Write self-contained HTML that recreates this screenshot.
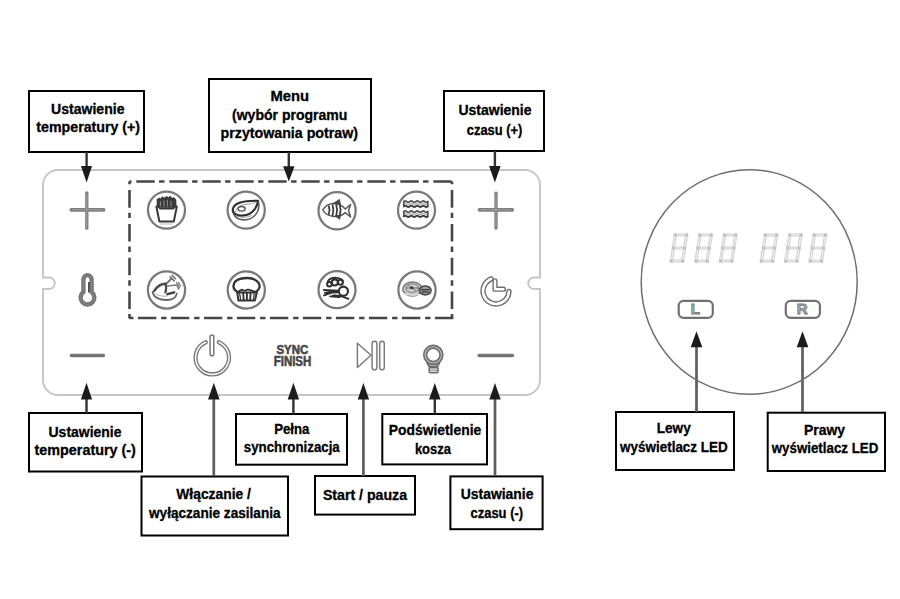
<!DOCTYPE html>
<html><head><meta charset="utf-8">
<style>
html,body{margin:0;padding:0;background:#fff;}
body{width:900px;height:599px;overflow:hidden;position:relative;}
svg{position:absolute;left:0;top:0;}
.t{font-family:"Liberation Sans",sans-serif;font-weight:bold;font-size:14.1px;fill:#000;stroke:#000;stroke-width:0.3px;text-anchor:middle;}
.bx{fill:#fff;stroke:#000;stroke-width:2;}
.sh{stroke:#4d4d4d;stroke-width:2.5;}
.hd{fill:#1c1c1c;}
.ic{fill:none;stroke:#6e6e6e;}
</style></head>
<body>
<svg width="900" height="599" viewBox="0 0 900 599">
<!-- panel outline -->
<path d="M58,170 H525 A15,15 0 0 1 540,185 V277.5 H534 A5.75,5.75 0 0 0 534,289 H540 V380 A15,15 0 0 1 525,395 H58 A15,15 0 0 1 43,380 V289 H49 A5.75,5.75 0 0 0 49,277.5 H43 V185 A15,15 0 0 1 58,170 Z" fill="none" stroke="#c6c6c6" stroke-width="1.9"/>
<!-- dashed menu rect -->
<g fill="none" stroke="#474747" stroke-width="2.6">
<path d="M129.5,181.5 H452.8" stroke-dasharray="18.4 4.4 5.4 4.8" stroke-dashoffset="26.2"/>
<path d="M129.5,181.5 V318.5" stroke-dasharray="17.6 5 5.4 5.8" stroke-dashoffset="25.2"/>
<path d="M452,181.5 V318.5" stroke-dasharray="17.6 5 5.4 5.8" stroke-dashoffset="25.2"/>
<path d="M453.3,318 H129.5" stroke-dasharray="18.4 4.4 5.4 4.8" stroke-dashoffset="0"/>
</g>
<!-- boxes -->
<rect class="bx" x="29" y="91" width="115" height="61"/>
<rect class="bx" x="209" y="79" width="162" height="73"/>
<rect class="bx" x="444" y="91" width="100" height="60"/>
<rect class="bx" x="29" y="413" width="113" height="58.5"/>
<rect class="bx" x="141.5" y="476.5" width="146.5" height="59"/>
<rect class="bx" x="236" y="414" width="111" height="50.7"/>
<rect class="bx" x="315" y="476" width="100" height="38.6"/>
<rect class="bx" x="382.3" y="414" width="104.7" height="50.4"/>
<rect class="bx" x="450.4" y="476.4" width="92.2" height="52.8"/>
<rect class="bx" x="616" y="412" width="118" height="58"/>
<rect class="bx" x="767.7" y="412.7" width="117.3" height="58.3"/>

<!-- texts -->
<text class="t" x="87.8" y="113.8" textLength="73.4" lengthAdjust="spacingAndGlyphs">Ustawienie</text>
<text class="t" x="88.2" y="132.4" textLength="103.7" lengthAdjust="spacingAndGlyphs">temperatury (+)</text>
<text class="t" x="289.7" y="101" textLength="38.6" lengthAdjust="spacingAndGlyphs">Menu</text>
<text class="t" x="289.7" y="119.6" textLength="115.4" lengthAdjust="spacingAndGlyphs">(wybór programu</text>
<text class="t" x="289.3" y="138" textLength="137.4" lengthAdjust="spacingAndGlyphs">przytowania potraw)</text>
<text class="t" x="495" y="115.4" textLength="73.0" lengthAdjust="spacingAndGlyphs">Ustawienie</text>
<text class="t" x="494.6" y="134.6" textLength="55.6" lengthAdjust="spacingAndGlyphs">czasu (+)</text>
<text class="t" x="85" y="436.5" textLength="72.9" lengthAdjust="spacingAndGlyphs">Ustawienie</text>
<text class="t" x="85.2" y="455.2" textLength="101.4" lengthAdjust="spacingAndGlyphs">temperatury (-)</text>
<text class="t" x="213.6" y="498.7" textLength="74.6" lengthAdjust="spacingAndGlyphs">Włączanie /</text>
<text class="t" x="214.8" y="517.6" textLength="131.6" lengthAdjust="spacingAndGlyphs">wyłączanie zasilania</text>
<text class="t" x="291.8" y="433.5" textLength="35.2" lengthAdjust="spacingAndGlyphs">Pełna</text>
<text class="t" x="291.8" y="452" textLength="95.9" lengthAdjust="spacingAndGlyphs">synchronizacja</text>
<text class="t" x="365" y="499.7" textLength="84.2" lengthAdjust="spacingAndGlyphs">Start / pauza</text>
<text class="t" x="435" y="434.7" textLength="92.4" lengthAdjust="spacingAndGlyphs">Podświetlenie</text>
<text class="t" x="432.9" y="454.2" textLength="36.0" lengthAdjust="spacingAndGlyphs">kosza</text>
<text class="t" x="497.1" y="498.8" textLength="72.8" lengthAdjust="spacingAndGlyphs">Ustawianie</text>
<text class="t" x="496.8" y="517.5" textLength="52.6" lengthAdjust="spacingAndGlyphs">czasu (-)</text>
<text class="t" x="673.7" y="433.3" textLength="34.0" lengthAdjust="spacingAndGlyphs">Lewy</text>
<text class="t" x="673.9" y="451.7" textLength="107.6" lengthAdjust="spacingAndGlyphs">wyświetlacz LED</text>
<text class="t" x="824.5" y="435" textLength="41.0" lengthAdjust="spacingAndGlyphs">Prawy</text>
<text class="t" x="825" y="453.3" textLength="106.5" lengthAdjust="spacingAndGlyphs">wyświetlacz LED</text>

<!-- arrows down -->
<g fill="#1c1c1c">
<line x1="86.6" y1="152" x2="86.6" y2="168" stroke="#333" stroke-width="2.4"/><polygon points="81,166 92,166 86.6,182.4"/>
<line x1="288.8" y1="152" x2="288.8" y2="168" stroke="#333" stroke-width="2.4"/><polygon points="283.1,166.2 294.5,166.2 288.8,181.6"/>
<line x1="494.9" y1="151" x2="494.9" y2="168" stroke="#333" stroke-width="2.4"/><polygon points="489.1,166 500.6,166 494.9,182.5"/>
</g>
<!-- arrows up -->
<g fill="#1c1c1c">
<line x1="86.5" y1="413" x2="86.5" y2="397" stroke="#333" stroke-width="2.4"/><polygon points="80.9,399.5 92.1,399.5 86.5,382.7"/>
<line x1="213.8" y1="476" x2="213.8" y2="397" stroke="#5e5e5e" stroke-width="2.7"/><polygon points="208,399.5 219.6,399.5 213.8,382.7"/>
<line x1="293.4" y1="414" x2="293.4" y2="397" stroke="#333" stroke-width="2.4"/><polygon points="287.7,399.5 299.1,399.5 293.4,382.7"/>
<line x1="363.4" y1="476" x2="363.4" y2="397" stroke="#5e5e5e" stroke-width="2.7"/><polygon points="357.7,399.5 369.1,399.5 363.4,382.9"/>
<line x1="434.8" y1="414" x2="434.8" y2="397" stroke="#333" stroke-width="2.4"/><polygon points="429.1,399.5 440.5,399.5 434.8,382.9"/>
<line x1="495" y1="476" x2="495" y2="397" stroke="#5e5e5e" stroke-width="2.7"/><polygon points="489.3,399.5 500.7,399.5 495,382.9"/>
<line x1="696.5" y1="412" x2="696.5" y2="345" stroke="#5e5e5e" stroke-width="2.7"/><polygon points="690.7,347.3 702.3,347.3 696.5,331.2"/>
<line x1="802.5" y1="412" x2="802.5" y2="345" stroke="#5e5e5e" stroke-width="2.7"/><polygon points="796.7,347.3 808.3,347.3 802.5,331.2"/>
</g>

<!-- menu circles -->
<g fill="none" stroke="#797979" stroke-width="2.25">
<circle cx="166.5" cy="210.1" r="18.5"/>
<circle cx="246.2" cy="210.1" r="18.6"/>
<circle cx="337.1" cy="210.8" r="18.6"/>
<circle cx="416.5" cy="210.2" r="18.5"/>
<circle cx="166.5" cy="290" r="18.6"/>
<circle cx="246.3" cy="290" r="18.6"/>
<circle cx="337" cy="289.7" r="18.5"/>
<circle cx="417" cy="290" r="18.6"/>
</g>
<!-- fries -->
<g stroke-linecap="round" stroke-linejoin="round">
<path d="M157.5,207 L157.3,199.5 L159.5,198.3 L161,200 L162.2,197.2 L164.5,198.5 L166.5,196.8 L168.5,198.2 L170.2,196.6 L172,199 L173.8,197.8 L175.6,200.2 L175.8,207 Z" fill="#3a3a3a" stroke="#3a3a3a" stroke-width="1.4"/>
<path d="M160.4,201.5 V206 M164,200.8 V206 M167.4,200.2 V206 M171,201.2 V206" stroke="#9a9a9a" stroke-width="0.9"/>
<path d="M156.4,206.6 H158.6 L160.2,208.6 H173.2 L174.8,206.6 H176.8 L173.8,221.6 H159.4 Z" fill="#fff" stroke="#363636" stroke-width="2" />
<path d="M160,224 H172.4" stroke="#aaa" stroke-width="0.8"/>
</g>
<!-- steak -->
<g fill="none" stroke-linecap="round" stroke-linejoin="round">
<path d="M258,200.8 C252,200.6 245,201 239.5,202.8 C235,204.5 232.6,207.5 232.8,210.5 C233.2,213.5 236.5,215.8 242.5,215.6 C248,215.3 252.5,212.5 255.2,208.5 C256.8,206 257.8,203.5 258,200.8 Z" stroke="#2c2c2c" stroke-width="2.2"/>
<path d="M233.5,213.8 C235.5,218.2 240,220.2 246,219.8 C251,219.2 255.5,215.5 257.6,211.5 C258.8,209 259.2,206 258.6,202.5" stroke="#5c5c5c" stroke-width="1.6"/>
<path d="M236,215.5 C240,218 247,218 251.5,215.5" stroke="#999" stroke-width="0.9"/>
<path d="M235.6,211.8 C236,207.5 240.5,204.8 247,204.2 C250,204 253,203.6 255.5,202.6" stroke="#9a9a9a" stroke-width="1"/>
<ellipse cx="241.6" cy="208.8" rx="3.6" ry="2.3" stroke="#555" stroke-width="1.4"/>
</g>
<!-- fish -->
<g fill="none" stroke-linejoin="round" stroke-linecap="round">
<path d="M322.8,210 C325,206 328.5,203.8 333,203.4 C338,203.2 342,205 345.3,209 L350.6,204.6 L348.6,210.8 L350.6,217 L345.3,212.6 C342,215.8 337,216.8 332.5,216.2 C328,215.6 324.8,213.6 322.8,210 Z" stroke="#5a5a5a" stroke-width="1.5"/>
<path d="M333.5,203.4 L339.4,199.4 L340.4,204.2 Z M335.5,216.2 L339.6,219.2 L340.4,215.6 Z" stroke="#4a4a4a" stroke-width="1" fill="#4a4a4a"/>
<path d="M328.8,206.2 Q330.3,210 328.8,214.2 M332.6,205.2 Q334.2,210 332.6,215.3 M336.3,205 Q337.9,210 336.3,215.5 M339.9,205.6 Q341.4,210 339.9,215.2" stroke="#3c3c3c" stroke-width="1.8"/>
</g>
<!-- bacon -->
<g fill="none" stroke-linecap="round">
<path d="M403.8,201.6 Q405.3,200.2 406.8,201.6 Q408.3,203.0 409.8,201.6 Q411.3,200.2 412.8,201.6 Q414.3,203.0 415.8,201.6 Q417.3,200.2 418.8,201.6 Q420.3,203.0 421.8,201.6 Q423.3,200.2 424.8,201.6 Q426.3,203.0 427.8,201.6" stroke="#555" stroke-width="1.6"/>
<path d="M403.8,204.0 Q405.3,202.6 406.8,204.0 Q408.3,205.4 409.8,204.0 Q411.3,202.6 412.8,204.0 Q414.3,205.4 415.8,204.0 Q417.3,202.6 418.8,204.0 Q420.3,205.4 421.8,204.0 Q423.3,202.6 424.8,204.0 Q426.3,205.4 427.8,204.0" stroke="#b4b4b4" stroke-width="1.3"/>
<path d="M403.8,206.4 Q405.3,205.0 406.8,206.4 Q408.3,207.8 409.8,206.4 Q411.3,205.0 412.8,206.4 Q414.3,207.8 415.8,206.4 Q417.3,205.0 418.8,206.4 Q420.3,207.8 421.8,206.4 Q423.3,205.0 424.8,206.4 Q426.3,207.8 427.8,206.4" stroke="#3c3c3c" stroke-width="1.9"/>
<path d="M403.8,211.6 Q405.3,210.2 406.8,211.6 Q408.3,213.0 409.8,211.6 Q411.3,210.2 412.8,211.6 Q414.3,213.0 415.8,211.6 Q417.3,210.2 418.8,211.6 Q420.3,213.0 421.8,211.6 Q423.3,210.2 424.8,211.6 Q426.3,213.0 427.8,211.6" stroke="#555" stroke-width="1.6"/>
<path d="M403.8,214.0 Q405.3,212.6 406.8,214.0 Q408.3,215.4 409.8,214.0 Q411.3,212.6 412.8,214.0 Q414.3,215.4 415.8,214.0 Q417.3,212.6 418.8,214.0 Q420.3,215.4 421.8,214.0 Q423.3,212.6 424.8,214.0 Q426.3,215.4 427.8,214.0" stroke="#b4b4b4" stroke-width="1.3"/>
<path d="M403.8,216.4 Q405.3,215.0 406.8,216.4 Q408.3,217.8 409.8,216.4 Q411.3,215.0 412.8,216.4 Q414.3,217.8 415.8,216.4 Q417.3,215.0 418.8,216.4 Q420.3,217.8 421.8,216.4 Q423.3,215.0 424.8,216.4 Q426.3,217.8 427.8,216.4" stroke="#3c3c3c" stroke-width="1.9"/>
<path d="M403.8,201.6 V206.4 M427.8,201.6 V206.4 M403.8,211.6 V216.4 M427.8,211.6 V216.4" stroke="#4a4a4a" stroke-width="1.5"/>
</g>
<!-- chicken -->
<g fill="none" stroke-linecap="round" stroke-linejoin="round">
<path d="M152.6,292 C153.6,297.6 160,300 166.5,300 C172,300 176,297.5 176.8,293.6" stroke="#666" stroke-width="1.8"/>
<path d="M154.2,291 C155.5,288.6 158,286 161.7,284.4 C163,284 164.5,283.8 165.9,283.8" stroke="#4a4a4a" stroke-width="2.4"/>
<path d="M165.2,283.8 C166.4,286 166.6,288.5 165.4,292.4" stroke="#444" stroke-width="2.2"/>
<path d="M166.7,283.4 L171.7,278.4" stroke="#666" stroke-width="1.9"/>
<path d="M170,276.8 L174.2,280.9 M172.1,275.4 L175.5,278.8" stroke="#707070" stroke-width="1.6"/>
<path d="M167.5,285.9 L176.7,285 L178.8,289.2" stroke="#7a7a7a" stroke-width="1.5"/>
<path d="M176.6,282.4 L179.6,287.6 M178.6,282.6 L180.8,286" stroke="#808080" stroke-width="1.3"/>
<path d="M167.5,294.2 L174.2,292.4" stroke="#3a3a3a" stroke-width="2.4"/>
<path d="M156,294.2 C159.5,296 163.5,296.6 167,296" stroke="#b0b0b0" stroke-width="1"/>
</g>
<!-- muffin -->
<g fill="none" stroke="#333" stroke-linejoin="round" stroke-linecap="round">
<path d="M236.4,291 C233,289.5 232.6,284.8 235.2,281.6 C238,278.8 243,278 247.3,278 C252.3,278.1 256.8,279.8 258.8,283.2 C260.4,286.2 259.3,289.8 256.8,291" stroke-width="2.3"/>
<path d="M237,292.2 C238.8,291.4 240.5,290.4 242.3,289.7 C243.5,290.5 244.5,291.2 245.4,290.6 C246.6,289.6 247.6,289.5 248.6,289.7 C250.8,290.4 253.5,291.2 256.8,292.2" stroke-width="1.8"/>
<path d="M237.2,292.4 H256.8 L255,300.4 H238.4 Z" fill="#fff" stroke-width="2"/>
<path d="M243.2,293.6 L243.7,299.6 M246.9,293.4 V299.8 M250.6,293.6 L250.1,299.6" stroke-width="1.9"/>
<path d="M239.6,293.6 L240.6,299.2 M254.2,293.6 L253.4,299.2" stroke-width="1.3"/>
</g>
<!-- noodles -->
<g fill="none" stroke="#2e2e2e" stroke-linecap="round" stroke-linejoin="round">
<circle cx="329.4" cy="284.2" r="2.3" stroke-width="2"/>
<circle cx="334.8" cy="282.4" r="3.1" stroke-width="2.2"/>
<circle cx="340.4" cy="282.2" r="2.5" stroke-width="2"/>
<path d="M327.8,281.2 C329.5,278.4 333,277.6 336.4,277.8 C339.6,278 342.2,279 342.8,281" stroke-width="1.8"/>
<circle cx="343.4" cy="291.2" r="4.6" stroke-width="2.1"/>
<path d="M323.8,290 L338.2,290.6 L324.8,292.8 L337.8,292.4 M324,295.4 L334,291.8 M333,295.6 C337,294.6 341,296 348.6,298.8 M330.2,296.4 L339.6,297" stroke-width="1.8"/>
</g>
<!-- pizza dish -->
<g fill="none" stroke-linecap="round">
<ellipse cx="412.4" cy="289" rx="9.6" ry="7" fill="#d0d0d0" stroke="#7e7e7e" stroke-width="1.6"/>
<ellipse cx="412.2" cy="288.2" rx="6.4" ry="4.4" stroke="#8a8a8a" stroke-width="1.3"/>
<path d="M406.5,288 H418 M409,285.8 L415.5,290.6" stroke="#666" stroke-width="1"/>
<circle cx="411.8" cy="287.8" r="1.5" fill="#333" stroke="none"/>
<path d="M405,293.8 C408.5,295.6 415.5,295.8 420,294" stroke="#f0f0f0" stroke-width="1.2"/>
<ellipse cx="425.2" cy="290.4" rx="5.8" ry="4.4" fill="#a0a0a0" stroke="#4e4e4e" stroke-width="1.7"/>
<path d="M421.5,289.6 H429 M422.2,291.8 H428.4" stroke="#333" stroke-width="1.3"/>
</g>
<!-- plus icons -->
<g stroke="#7e7e7e" stroke-linecap="round" fill="none">
<path d="M71.4,209.8 H103.6" stroke-width="3.8"/><path d="M86.8,192.8 V228.2" stroke-width="3.3"/>
<path d="M479.6,209.8 H512.2" stroke-width="3.8"/><path d="M496,193.2 V228" stroke-width="3.3"/>
</g>
<g stroke="#a8a8a8" stroke-width="0.8" fill="none">
<path d="M72.5,209.8 H102.5 M86.8,194 V227"/>
<path d="M480.6,209.8 H511.2 M496,194.4 V227"/>
</g>
<!-- minus icons -->
<g stroke="#757575" stroke-width="3.5" stroke-linecap="round" fill="none">
<path d="M71.4,355.6 H103.4"/>
<path d="M479.2,355.6 H512.4"/>
</g>
<!-- thermometer -->
<path d="M83.4,292.05 V279.3 A4.1,4.1 0 0 1 91.6,279.3 V292.05 A6.9,6.9 0 1 1 83.4,292.05 Z" fill="none" stroke="#737373" stroke-width="4.3"/>
<path d="M83.4,292.05 V279.3 A4.1,4.1 0 0 1 91.6,279.3 V292.05 A6.9,6.9 0 1 1 83.4,292.05 Z" fill="none" stroke="#8f8f8f" stroke-width="0.8"/>
<path d="M88.9,282 V292.5" stroke="#444" stroke-width="1.7"/>
<!-- clock -->
<g fill="none" stroke-linecap="round" stroke-linejoin="round">
<path d="M491.1,278.9 A13,13 0 1 0 509.0,291.5" stroke="#6e6e6e" stroke-width="5.4"/>
<path d="M491.1,278.9 A13,13 0 1 0 509.0,291.5" stroke="#fff" stroke-width="2.6"/>
<path d="M495,280.8 V289.2 H503.5" stroke="#6e6e6e" stroke-width="5.2"/>
<path d="M495,280.8 V289.2 H503.5" stroke="#fff" stroke-width="2.4"/>
</g>
<!-- power -->
<g fill="none" stroke-linecap="round">
<path d="M205.8,342.2 A16.75,16.75 0 1 0 218.8,342.2" stroke="#787878" stroke-width="4.2"/>
<path d="M205.8,342.2 A16.75,16.75 0 1 0 218.8,342.2" stroke="#fff" stroke-width="1.5"/>
<path d="M211.9,336.9 V354" stroke="#787878" stroke-width="5.2"/>
<path d="M211.9,336.9 V354" stroke="#fff" stroke-width="2.2"/>
</g>
<!-- sync finish -->
<g font-family="Liberation Sans, sans-serif" font-weight="bold" fill="#474747" stroke="#474747" stroke-width="0.6" text-anchor="middle">
<text transform="translate(292.3,354.2) scale(0.88,1)" font-size="13">SYNC</text>
<text transform="translate(292.5,365.7) scale(0.82,1)" font-size="14">FINISH</text>
</g>
<!-- play pause -->
<g fill="none" stroke="#7a7a7a" stroke-width="1.45" stroke-linejoin="round">
<path d="M357.4,343.2 V367.5 L371,355.3 Z"/>
<rect x="372.1" y="341.2" width="4.8" height="28.6" rx="2.4"/>
<rect x="379.7" y="341.2" width="4.6" height="28.6" rx="2.3"/>
</g>
<!-- bulb -->
<g fill="none" stroke-linecap="round" stroke-linejoin="round">
<path d="M427.2,362 C426.5,363.5 428.6,364.5 429,366.5 H437.6 C438,364.5 440,363.5 439.4,362" stroke="#6a6a6a" stroke-width="1.8"/>
<circle cx="433.3" cy="354.9" r="8.1" stroke="#6c6c6c" stroke-width="4.4"/>
<circle cx="433.3" cy="354.9" r="8.1" stroke="#c4c4c4" stroke-width="1.1"/>
<rect x="429.2" y="367.6" width="8.8" height="5" rx="1.2" stroke="#6a6a6a" stroke-width="1.6"/>
<path d="M429.5,370.1 H437.7" stroke="#888" stroke-width="1.2"/>
</g>
<!-- LED circle -->
<ellipse cx="749.2" cy="282" rx="108" ry="112.3" fill="none" stroke="#6e6e6e" stroke-width="1.5"/>
<!-- LED digits -->
<path d="M673.6,235.0 L688.4,235.0 M671.6,248.0 L686.4,248.0 M669.6,261.0 L684.4,261.0 M675.7,233.2 L673.1,249.8 M673.7,246.2 L671.1,262.8 M686.9,233.2 L684.3,249.8 M684.9,246.2 L682.3,262.8 M698.2,235.0 L713.0,235.0 M696.2,248.0 L711.0,248.0 M694.2,261.0 L709.0,261.0 M700.3,233.2 L697.7,249.8 M698.3,246.2 L695.7,262.8 M711.5,233.2 L708.9,249.8 M709.5,246.2 L706.9,262.8 M722.8,235.0 L737.6,235.0 M720.8,248.0 L735.6,248.0 M718.8,261.0 L733.6,261.0 M724.9,233.2 L722.3,249.8 M722.9,246.2 L720.3,262.8 M736.1,233.2 L733.5,249.8 M734.1,246.2 L731.5,262.8 M763.6,235.0 L778.4,235.0 M761.6,248.0 L776.4,248.0 M759.6,261.0 L774.4,261.0 M765.7,233.2 L763.1,249.8 M763.7,246.2 L761.1,262.8 M776.9,233.2 L774.3,249.8 M774.9,246.2 L772.3,262.8 M788.0,235.0 L802.8,235.0 M786.0,248.0 L800.8,248.0 M784.0,261.0 L798.8,261.0 M790.1,233.2 L787.5,249.8 M788.1,246.2 L785.5,262.8 M801.3,233.2 L798.7,249.8 M799.3,246.2 L796.7,262.8 M812.5,235.0 L827.3,235.0 M810.5,248.0 L825.3,248.0 M808.5,261.0 L823.3,261.0 M814.6,233.2 L812.0,249.8 M812.6,246.2 L810.0,262.8 M825.8,233.2 L823.2,249.8 M823.8,246.2 L821.2,262.8" fill="none" stroke="#d0d0d0" stroke-width="3.2"/>
<path d="M673.6,235.0 L688.4,235.0 M671.6,248.0 L686.4,248.0 M669.6,261.0 L684.4,261.0 M675.7,233.2 L673.1,249.8 M673.7,246.2 L671.1,262.8 M686.9,233.2 L684.3,249.8 M684.9,246.2 L682.3,262.8 M698.2,235.0 L713.0,235.0 M696.2,248.0 L711.0,248.0 M694.2,261.0 L709.0,261.0 M700.3,233.2 L697.7,249.8 M698.3,246.2 L695.7,262.8 M711.5,233.2 L708.9,249.8 M709.5,246.2 L706.9,262.8 M722.8,235.0 L737.6,235.0 M720.8,248.0 L735.6,248.0 M718.8,261.0 L733.6,261.0 M724.9,233.2 L722.3,249.8 M722.9,246.2 L720.3,262.8 M736.1,233.2 L733.5,249.8 M734.1,246.2 L731.5,262.8 M763.6,235.0 L778.4,235.0 M761.6,248.0 L776.4,248.0 M759.6,261.0 L774.4,261.0 M765.7,233.2 L763.1,249.8 M763.7,246.2 L761.1,262.8 M776.9,233.2 L774.3,249.8 M774.9,246.2 L772.3,262.8 M788.0,235.0 L802.8,235.0 M786.0,248.0 L800.8,248.0 M784.0,261.0 L798.8,261.0 M790.1,233.2 L787.5,249.8 M788.1,246.2 L785.5,262.8 M801.3,233.2 L798.7,249.8 M799.3,246.2 L796.7,262.8 M812.5,235.0 L827.3,235.0 M810.5,248.0 L825.3,248.0 M808.5,261.0 L823.3,261.0 M814.6,233.2 L812.0,249.8 M812.6,246.2 L810.0,262.8 M825.8,233.2 L823.2,249.8 M823.8,246.2 L821.2,262.8" fill="none" stroke="#f0f0f0" stroke-width="1.2"/>
<g fill="#bdbdbd"><circle cx="675.4" cy="235" r="1.5"/><circle cx="686.6" cy="235" r="1.5"/><circle cx="673.4" cy="248" r="1.5"/><circle cx="684.6" cy="248" r="1.5"/><circle cx="671.4" cy="261" r="1.5"/><circle cx="682.6" cy="261" r="1.5"/><circle cx="700.0" cy="235" r="1.5"/><circle cx="711.2" cy="235" r="1.5"/><circle cx="698.0" cy="248" r="1.5"/><circle cx="709.2" cy="248" r="1.5"/><circle cx="696.0" cy="261" r="1.5"/><circle cx="707.2" cy="261" r="1.5"/><circle cx="724.6" cy="235" r="1.5"/><circle cx="735.8" cy="235" r="1.5"/><circle cx="722.6" cy="248" r="1.5"/><circle cx="733.8" cy="248" r="1.5"/><circle cx="720.6" cy="261" r="1.5"/><circle cx="731.8" cy="261" r="1.5"/><circle cx="765.4" cy="235" r="1.5"/><circle cx="776.6" cy="235" r="1.5"/><circle cx="763.4" cy="248" r="1.5"/><circle cx="774.6" cy="248" r="1.5"/><circle cx="761.4" cy="261" r="1.5"/><circle cx="772.6" cy="261" r="1.5"/><circle cx="789.8" cy="235" r="1.5"/><circle cx="801.0" cy="235" r="1.5"/><circle cx="787.8" cy="248" r="1.5"/><circle cx="799.0" cy="248" r="1.5"/><circle cx="785.8" cy="261" r="1.5"/><circle cx="797.0" cy="261" r="1.5"/><circle cx="814.3" cy="235" r="1.5"/><circle cx="825.5" cy="235" r="1.5"/><circle cx="812.3" cy="248" r="1.5"/><circle cx="823.5" cy="248" r="1.5"/><circle cx="810.3" cy="261" r="1.5"/><circle cx="821.5" cy="261" r="1.5"/></g>
<!-- L R boxes -->
<g fill="none" stroke="#717171" stroke-width="2.2">
<rect x="678.7" y="300.8" width="34.1" height="17" rx="4.8"/>
<rect x="785.8" y="300.8" width="34.1" height="17" rx="4.8"/>
</g>
<g font-family="Liberation Sans, sans-serif" font-weight="bold" font-size="15" fill="#b8b8b8" stroke="#727272" stroke-width="0.9" text-anchor="middle">
<text x="695.4" y="314.4">L</text>
<text x="802.2" y="314.4">R</text>
</g>
</svg>
</body></html>
